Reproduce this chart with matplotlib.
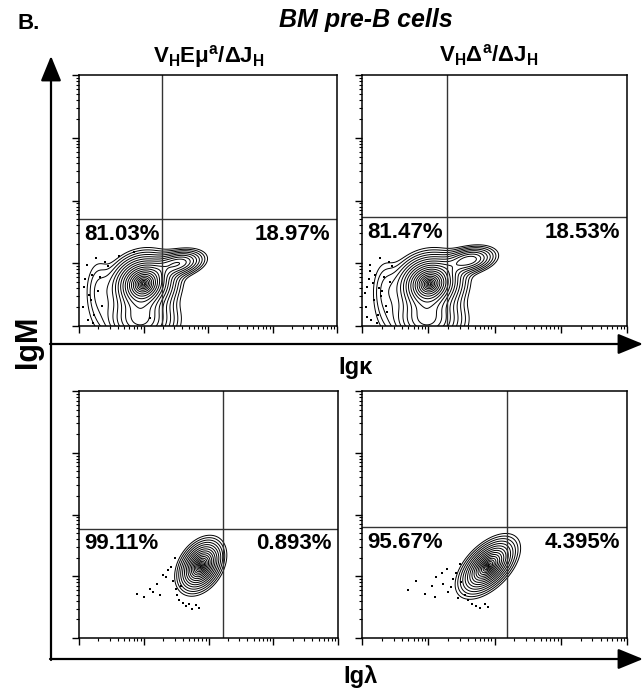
import numpy as np
import matplotlib
matplotlib.use("Agg")
import matplotlib.pyplot as plt
from matplotlib.ticker import LogLocator, NullFormatter

plt.rcParams['font.family'] = ['Liberation Sans', 'DejaVu Sans']
plt.rcParams['mathtext.fontset'] = 'custom'
plt.rcParams['mathtext.rm'] = 'Liberation Sans'
plt.rcParams['mathtext.bf'] = 'Liberation Sans:bold'
plt.rcParams['mathtext.it'] = 'Liberation Sans:italic'

# ---------------- data ----------------
panel_title = "BM pre-B cells"
col_titles = [r'$\mathbf{V_HEμ^a/ΔJ_H}$', r'$\mathbf{V_HΔ^a/ΔJ_H}$']
x_labels = ["Igκ", "Igλ"]
y_label = "IgM"

# quadrant percentages: (lower-left, lower-right)
pct_kappa = [("81.03%", "18.97%"), ("81.47%", "18.53%")]
pct_lambda = [("99.11%", "0.893%"), ("95.67%", "4.395%")]

# gate positions (log10 units)
gate_x = [[1.29, 1.28], [2.22, 2.19]]
gate_y = [[1.70, 1.73], [1.77, 1.79]]

# density components per panel, log10 units: centre x, centre y, sd x, sd y, corr, weight
comp_k1_x = [1.00, 1.55, 0.30, 0.95]
comp_k1_y = [0.68, 1.00, 0.55, 0.10]
comp_k1_sx = [0.24, 0.20, 0.13, 0.28]
comp_k1_sy = [0.22, 0.11, 0.32, 0.22]
comp_k1_r = [0.1, 0.3, 0.0, 0.0]
comp_k1_w = [1.0, 0.40, 0.08, 0.45]

comp_k2_x = [1.02, 1.62, 0.35, 0.98]
comp_k2_y = [0.68, 1.05, 0.55, 0.10]
comp_k2_sx = [0.24, 0.20, 0.13, 0.28]
comp_k2_sy = [0.22, 0.11, 0.32, 0.22]
comp_k2_r = [0.1, 0.3, 0.0, 0.0]
comp_k2_w = [1.0, 0.40, 0.08, 0.45]

comp_l1_x = [1.88]
comp_l1_y = [1.17]
comp_l1_sx = [0.155]
comp_l1_sy = [0.19]
comp_l1_r = [0.35]
comp_l1_w = [1.0]

comp_l2_x = [1.90]
comp_l2_y = [1.16]
comp_l2_sx = [0.19]
comp_l2_sy = [0.205]
comp_l2_r = [0.55]
comp_l2_w = [1.0]

# outlier events (log10 units)
dots_k1_x = [0.12, 0.20, 0.27, 0.08, 0.33, 0.18, 0.06, 0.40, 0.24, 0.14, 0.30, 0.45, 0.10, 0.22, 0.36, 0.62, 0.85, 1.10, 0.16]
dots_k1_y = [0.98, 0.82, 1.08, 0.62, 0.78, 0.42, 0.30, 1.02, 0.18, 0.10, 0.55, 0.95, 0.75, 0.05, 0.32, 1.12, 1.18, 0.12, 0.50]
dots_k2_x = [0.12, 0.20, 0.27, 0.08, 0.33, 0.18, 0.06, 0.40, 0.24, 0.14, 0.30, 0.45, 0.10, 0.22, 0.36, 0.16, 0.28, 0.05, 0.38, 0.12, 0.25, 0.08, 0.42]
dots_k2_y = [0.98, 0.82, 1.08, 0.62, 0.78, 0.42, 0.30, 1.02, 0.18, 0.10, 0.55, 0.95, 0.75, 0.05, 0.32, 0.68, 0.48, 0.52, 0.22, 0.88, 0.60, 0.15, 0.70]
dots_l1_x = [0.90, 1.00, 1.10, 1.20, 1.25, 1.30, 1.38, 1.45, 1.50, 1.55, 1.60, 1.65, 1.70, 1.75, 1.80, 1.15, 1.35, 1.48, 1.85, 1.52, 1.42, 1.58]
dots_l1_y = [0.72, 0.66, 0.80, 0.88, 0.70, 1.02, 1.10, 0.92, 0.80, 0.62, 0.57, 0.52, 0.55, 0.47, 0.53, 0.74, 0.98, 1.30, 0.48, 0.70, 1.15, 0.85]
dots_l2_x = [0.70, 0.82, 0.95, 1.05, 1.12, 1.22, 1.30, 1.38, 1.42, 1.48, 1.55, 1.60, 1.66, 1.72, 1.78, 1.85, 1.20, 1.35, 1.45, 1.50, 1.10, 1.90, 1.28]
dots_l2_y = [0.78, 0.92, 0.72, 0.85, 0.98, 0.88, 0.75, 0.95, 1.05, 1.20, 0.70, 0.62, 0.55, 0.52, 0.48, 0.55, 1.05, 0.82, 0.65, 0.90, 0.66, 0.50, 1.12]

# ---------------- figure ----------------
W, H = 644, 696
fig = plt.figure(figsize=(W / 100, H / 100), dpi=100)


def fx(px):
    return px / W


def fy(py):
    return 1 - py / H


def add_ax(l, r, t, b):
    return fig.add_axes([fx(l), fy(b), fx(r) - fx(l), fy(t) - fy(b)])


boxes = [[(79, 337, 75, 326), (362, 627, 75, 326)],
         [(79, 338, 391, 638), (362, 627, 391, 638)]]

comps = [[(comp_k1_x, comp_k1_y, comp_k1_sx, comp_k1_sy, comp_k1_r, comp_k1_w),
          (comp_k2_x, comp_k2_y, comp_k2_sx, comp_k2_sy, comp_k2_r, comp_k2_w)],
         [(comp_l1_x, comp_l1_y, comp_l1_sx, comp_l1_sy, comp_l1_r, comp_l1_w),
          (comp_l2_x, comp_l2_y, comp_l2_sx, comp_l2_sy, comp_l2_r, comp_l2_w)]]
dots = [[(dots_k1_x, dots_k1_y), (dots_k2_x, dots_k2_y)],
        [(dots_l1_x, dots_l1_y), (dots_l2_x, dots_l2_y)]]
pcts = [pct_kappa, pct_lambda]

gx = np.linspace(-0.6, 4.0, 460)
gy = np.linspace(-0.6, 4.0, 460)
GX, GY = np.meshgrid(gx, gy)

for r in range(2):
    for c in range(2):
        ax = add_ax(*boxes[r][c])
        cx, cy, sx, sy, rho, w = comps[r][c]
        Z = np.zeros_like(GX)
        for i in range(len(cx)):
            dx = (GX - cx[i]) / sx[i]
            dy = (GY - cy[i]) / sy[i]
            q = (dx ** 2 - 2 * rho[i] * dx * dy + dy ** 2) / (1 - rho[i] ** 2)
            Z += w[i] * np.exp(-0.5 * q)
        zmax = Z.max()
        nlev = 20 if r == 0 else 17
        radii = 2.6 * np.linspace(0.08, 1.0, nlev) ** 1.4
        levels = np.sort(zmax * np.exp(-0.5 * radii ** 2))
        ax.contour(10 ** GX, 10 ** GY, Z, levels=levels, colors='black',
                   linewidths=0.7)
        dx_, dy_ = dots[r][c]
        ax.scatter(10 ** np.array(dx_), 10 ** np.array(dy_), s=1.5, c='black',
                   marker='s', linewidths=0)
        ax.set_xscale('log')
        ax.set_yscale('log')
        ax.set_xlim(1, 1e4)
        ax.set_ylim(1, 1e4)
        ax.axvline(10 ** gate_x[r][c], color='#333333', lw=1.0)
        ax.axhline(10 ** gate_y[r][c], color='#333333', lw=1.0)
        for sp in ['top', 'right', 'left', 'bottom']:
            ax.spines[sp].set_linewidth(1.1)
        for axis in (ax.xaxis, ax.yaxis):
            axis.set_major_locator(LogLocator(base=10, numticks=10))
            axis.set_minor_locator(LogLocator(base=10, subs=np.arange(2, 10), numticks=10))
            axis.set_major_formatter(NullFormatter())
            axis.set_minor_formatter(NullFormatter())
        ax.tick_params(which='major', direction='out', length=5, width=1.0,
                       top=False, right=False)
        ax.tick_params(which='minor', direction='out', length=2.5, width=0.8,
                       top=False, right=False)
        left_t, right_t = pcts[r][c]
        ax.text(0.02, (gate_y[r][c] - 0.24) / 4, left_t, transform=ax.transAxes,
                fontsize=16, fontweight='bold', ha='left', va='center')
        ax.text(0.975, (gate_y[r][c] - 0.24) / 4, right_t, transform=ax.transAxes,
                fontsize=16, fontweight='bold', ha='right', va='center')

# arrows / big axes
arrow_kw = dict(arrowstyle='-|>,head_length=1.1,head_width=0.45', color='black',
                lw=1.6, mutation_scale=14, shrinkA=0, shrinkB=0)
ax_over = fig.add_axes([0, 0, 1, 1], facecolor='none')
ax_over.set_xlim(0, W)
ax_over.set_ylim(H, 0)
ax_over.axis('off')
ax_over.annotate('', xy=(51, 56), xytext=(51, 660), arrowprops=arrow_kw,
                 annotation_clip=False)
ax_over.annotate('', xy=(643, 344), xytext=(50, 344), arrowprops=arrow_kw,
                 annotation_clip=False)
ax_over.annotate('', xy=(643, 659), xytext=(50, 659), arrowprops=arrow_kw,
                 annotation_clip=False)

# texts
ax_over.text(18, 29, "B.", fontsize=16, fontweight='bold', ha='left', va='baseline')
ax_over.text(366, 27, panel_title, fontsize=18, fontweight='bold', style='italic',
             ha='center', va='baseline')
ax_over.text(209, 62, col_titles[0], fontsize=16, ha='center', va='baseline')
ax_over.text(489, 62, col_titles[1], fontsize=16, ha='center', va='baseline')
ax_over.text(356, 374, x_labels[0], fontsize=17, fontweight='bold', ha='center',
             va='baseline')
ax_over.text(361, 683, x_labels[1], fontsize=17, fontweight='bold', ha='center',
             va='baseline')
ax_over.text(28, 342, y_label, fontsize=22, fontweight='bold', rotation=90,
             ha='center', va='center')

fig.savefig('out.png', dpi=100)
